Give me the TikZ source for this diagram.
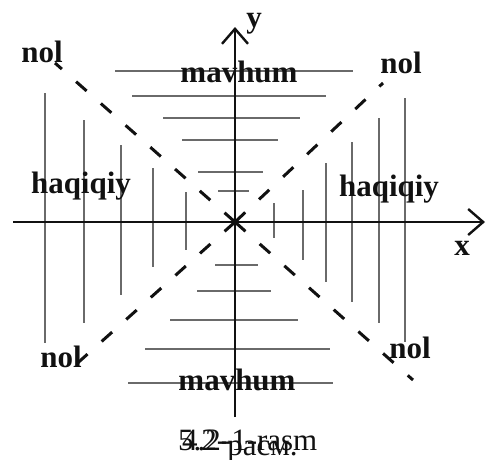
\documentclass[tikz,border=0pt]{standalone}
\usepackage{fontspec}
\setmainfont{Liberation Serif}
\usepackage{tikz}
\usetikzlibrary{arrows.meta}
\definecolor{ink}{HTML}{111111}
\definecolor{hatchgray}{HTML}{6A6A6A}
\tikzset{
  axis/.style={draw=ink,line width=2.4pt,
               -{Straight Barb[length=15pt,width=26pt]}},
  hatch/.style={draw=hatchgray,line width=1.5pt},
  zeroline/.style={draw=ink,line width=3pt,dash pattern=on 14pt off 19pt},
  lbl/.style={font=\bfseries\fontsize{31}{36}\selectfont,text=ink,
              inner sep=0pt,anchor=base},
  captext/.style={font=\fontsize{31}{36}\selectfont,text=ink,
              inner sep=0pt,anchor=base west}
}

\begin{document}
\begin{tikzpicture}[x=1pt,y=-1pt]
    \useasboundingbox (0,0) rectangle (486,459);

    \coordinate (O) at (235,222);
    \coordinate (xL) at (13,222);
    \coordinate (xR) at (485,222);
    \coordinate (yB) at (235,417);
    \coordinate (yT) at (235,27);

    % vertical hatching (real part)
    \foreach \x/\top/\bot in {45/93/343,84/120/323,121/145/295,153/168/267,
                              186/192/250,274/203/238,303/190/260,326/163/282,
                              352/142/302,379/118/323,405/98/342}
      \draw[hatch] (\x,\top) -- (\x,\bot);
    % horizontal hatching (imaginary part)
    \foreach \y/\l/\r in {71/115/353,96/132/326,118/163/300,140/182/278,
                          172/198/263,191/218/249,265/215/258,291/197/271,
                          320/170/298,349/145/330,383/128/333}
      \draw[hatch] (\l,\y) -- (\r,\y);

    % zero lines
    \coordinate (dNW) at (55,63);
    \coordinate (dSE) at (413,380);
    \coordinate (dSW) at (72,368);
    \coordinate (dNE) at (383,83);
    \foreach \e in {dNW,dSE,dSW,dNE}
      \draw[zeroline] (O) -- (\e);

    \draw[axis] (xL) -- (xR);
    \draw[axis] (yB) -- (yT);

    \node[lbl] (ylab) at (254,27) {y};
    \node[lbl] (xlab) at (462,255) {x};
    \node[lbl] (nolNW) at (42,62) {nol};
    \node[lbl] (nolNE) at (401,73) {nol};
    \node[lbl] (nolSW) at (61,367) {nol};
    \node[lbl] (nolSE) at (410,358) {nol};
    \node[lbl] (mavN) at (239,82) {mavhum};
    \node[lbl] (mavS) at (237,390) {mavhum};
    \node[lbl] (haqW) at (81,193) {haqiqiy};
    \node[lbl] (haqE) at (389,196) {haqiqiy};

    \node[captext] (capA) at (182,450) {4.2-1-rasm};
    \node[captext] (capB) at (178,450) {5.2-\raisebox{-5pt}{расм.}};
  \end{tikzpicture}
\end{document}
